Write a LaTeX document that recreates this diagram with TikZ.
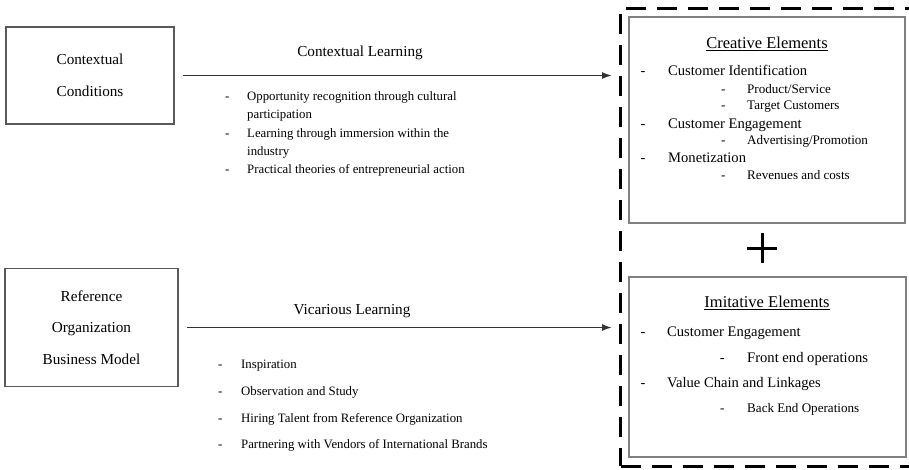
\documentclass[tikz,border=0pt]{standalone}
\usepackage{fontspec}
\setmainfont{Liberation Serif}
\usetikzlibrary{arrows.meta}

\begin{document}
\begin{tikzpicture}[x=1pt,y=1pt,
    srcbox/.style={draw=black!65, line width=1.4pt, align=center, font=\fontsize{15.2}{31.5}\selectfont},
    elbox/.style={draw=black!50, line width=1.2pt},
    learn/.style={draw=black!80, line width=1.6pt, -{Latex[length=10pt,width=7pt]}},
    bigtext/.style={anchor=base, font=\fontsize{15.2}{18}\selectfont},
    smalltext/.style={anchor=base west, font=\fontsize{12.8}{15}\selectfont},
    headtext/.style={anchor=base, font=\fontsize{16.5}{20}\selectfont},
    mainitem/.style={anchor=base west, font=\fontsize{14.6}{17}\selectfont},
    subitem/.style={anchor=base west, font=\fontsize{13.1}{16}\selectfont}]
            \tikzstyle{every node}+=[inner sep=0pt, text=black]
            \useasboundingbox (0,0) rectangle (909,-469);
            % sources
            \node [srcbox, minimum width=168pt, minimum height=97pt] (cc) at (90,-75.5) {Contextual\\Conditions};
            \node [srcbox, minimum width=173pt, minimum height=118pt] (rob) at (91.5,-327.5) {Reference\\Organization\\Business Model};
            % business model
            \node [draw=black, line width=3pt, dash pattern=on 20pt off 11pt, minimum width=295pt, minimum height=458pt] (mix) at (768,-237) {};
            \node [elbox, minimum width=276pt, minimum height=206pt] (ce) at (767,-120) {};
            \node [elbox, minimum width=277pt, minimum height=180pt] (ie) at (767.5,-367) {};
            \coordinate (plus) at (762,-248);
            \draw [black, line width=3pt] ([xshift=-15pt]plus) -- ([xshift=15pt]plus);
            \draw [black, line width=3pt] ([yshift=15pt]plus) -- ([yshift=-15pt]plus);
            % contextual learning
            \draw [learn, shorten <=8.5pt, shorten >=7pt] (cc.east) -- (cc.east -| mix.west);
            \node [bigtext] (cl) at (360,-56.5) {Contextual Learning};
            \node [smalltext] (cl1) at (225,-100.7) {\makebox[22pt][l]{-}Opportunity recognition through cultural};
            \node [smalltext] (cl2) at (247,-118.9) {participation};
            \node [smalltext] (cl3) at (225,-137.1) {\makebox[22pt][l]{-}Learning through immersion within the};
            \node [smalltext] (cl4) at (247,-155.3) {industry};
            \node [smalltext] (cl5) at (225,-173.5) {\makebox[22pt][l]{-}Practical theories of entrepreneurial action};
            % vicarious learning
            \draw [learn, shorten <=8.5pt, shorten >=7pt] (rob.east) -- (rob.east -| mix.west);
            \node [bigtext] (vl) at (352,-314.5) {Vicarious Learning};
            \node [smalltext] (vl1) at (218,-368.7) {\makebox[23pt][l]{-}Inspiration};
            \node [smalltext] (vl2) at (218,-395.4) {\makebox[23pt][l]{-}Observation and Study};
            \node [smalltext] (vl3) at (218,-422.1) {\makebox[23pt][l]{-}Hiring Talent from Reference Organization};
            \node [smalltext] (vl4) at (218,-448.8) {\makebox[23pt][l]{-}Partnering with Vendors of International Brands};
            % creative elements
            \node [headtext] (cet) at (767,-48.5) {\underline{Creative Elements}};
            \node [mainitem] (ce1) at (640.5,-75.3) {\makebox[27.5pt][l]{-}Customer Identification};
            \node [subitem] (ce2) at (720.8,-93.8) {\makebox[26.2pt][l]{-}Product/Service};
            \node [subitem] (ce3) at (720.8,-109.8) {\makebox[26.2pt][l]{-}Target Customers};
            \node [mainitem] (ce4) at (640.5,-128.3) {\makebox[27.5pt][l]{-}Customer Engagement};
            \node [subitem] (ce5) at (720.8,-144.8) {\makebox[26.2pt][l]{-}Advertising/Promotion};
            \node [mainitem] (ce6) at (640.5,-162.3) {\makebox[27.5pt][l]{-}Monetization};
            \node [subitem] (ce7) at (720.8,-179.8) {\makebox[26.2pt][l]{-}Revenues and costs};
            % imitative elements
            \node [headtext] (iet) at (767,-307.5) {\underline{Imitative Elements}};
            \node [mainitem] (ie1) at (640.5,-336.3) {\makebox[26.5pt][l]{-}Customer Engagement};
            \node [mainitem] (ie2) at (719.6,-362.3) {\makebox[27.4pt][l]{-}Front end operations};
            \node [mainitem] (ie3) at (640.5,-387.3) {\makebox[26.5pt][l]{-}Value Chain and Linkages};
            \node [subitem] (ie4) at (719.8,-412) {\makebox[27.2pt][l]{-}Back End Operations};
        \end{tikzpicture}
\end{document}
